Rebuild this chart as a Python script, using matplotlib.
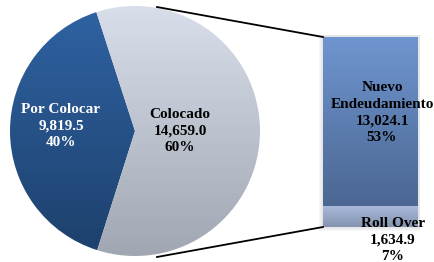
import numpy as np
import matplotlib
matplotlib.use("Agg")
import matplotlib.pyplot as plt
from matplotlib.colors import LinearSegmentedColormap
from matplotlib.patches import Rectangle

# data
pie_labels = ["Por Colocar", "Colocado"]
pie_values = [9819.5, 14659.0]
pie_pcts = ["40%", "60%"]
bar_labels = ["Roll Over", "Nuevo\nEndeudamiento"]
bar_values = [1634.9, 13024.1]
bar_pcts = ["7%", "53%"]

W, H = 435, 262
fig = plt.figure(figsize=(W / 100, H / 100), dpi=100)
ax = fig.add_axes([0, 0, 1, 1])
ax.set_xlim(0, W)
ax.set_ylim(0, H)
ax.axis("off")

plt.rcParams["font.family"] = ["Liberation Serif", "DejaVu Serif"]


def fill_gradient(patch, top, bottom, z=2):
    patch.set_facecolor("none")
    x0, y0, x1, y1 = patch.get_window_extent().transformed(ax.transData.inverted()).extents
    cmap = LinearSegmentedColormap.from_list("g", [bottom, top])
    grad = np.linspace(0, 1, 256).reshape(-1, 1)
    im = ax.imshow(grad, cmap=cmap, extent=(x0, x1, y0, y1), origin="lower",
                   aspect="auto", zorder=z)
    im.set_clip_path(patch)


# pie
cx, cy, r = 135, 131, 125
wedges, _ = ax.pie(pie_values, center=(cx, cy), radius=r, startangle=108,
                   counterclock=True, frame=True)
ax.set_xlim(0, W)
ax.set_ylim(0, H)
ax.set_aspect("equal")
ax.axis("off")
fig.canvas.draw()
fill_gradient(wedges[0], "#2f62a2", "#1d416d")
fill_gradient(wedges[1], "#d8dfeb", "#a0a6b2")

# bar of the "Colocado" part
bx, bw, by0 = 370.5, 95, 35
scale = 190 / sum(bar_values)
heights = [v * scale for v in bar_values]
bottoms = [by0, by0 + heights[0]]
# soft shadow
for k, a in enumerate([0.06, 0.06, 0.05, 0.04]):
    ax.add_patch(Rectangle((bx - bw / 2 - 4 + k, by0 - 4 + k), bw + 6 - k, 190 + 6 - k,
                           facecolor="#808080", alpha=a, edgecolor="none", zorder=1))
bars = ax.bar([bx, bx], heights, width=bw, bottom=bottoms, zorder=2)
fig.canvas.draw()
fill_gradient(bars[0], "#aabbdc", "#8494b0")
fill_gradient(bars[1], "#6f95d0", "#4b6792")

# connector lines
top = by0 + sum(heights)
ax.plot([157, bx - bw / 2], [255, top], color="black", lw=1.3, zorder=3)
ax.plot([157, bx - bw / 2], [5, by0], color="black", lw=1.3, zorder=3)

fs = 11
kw = dict(ha="center", va="center", fontsize=fs, fontweight="bold", linespacing=1.35, zorder=4)
ax.text(61, 136, f"{pie_labels[0]}\n{pie_values[0]:,.1f}\n{pie_pcts[0]}", color="white", **kw)
ax.text(180, 131, f"{pie_labels[1]}\n{pie_values[1]:,.1f}\n{pie_pcts[1]}", color="black", **kw)
ax.text(382, 149.5, f"{bar_labels[1]}\n{bar_values[1]:,.1f}\n{bar_pcts[1]}", color="black", **kw)
ax.text(393, 22, f"{bar_labels[0]}\n{bar_values[0]:,.1f}\n{bar_pcts[0]}", color="black", **kw)

fig.savefig("out.png", dpi=100)
